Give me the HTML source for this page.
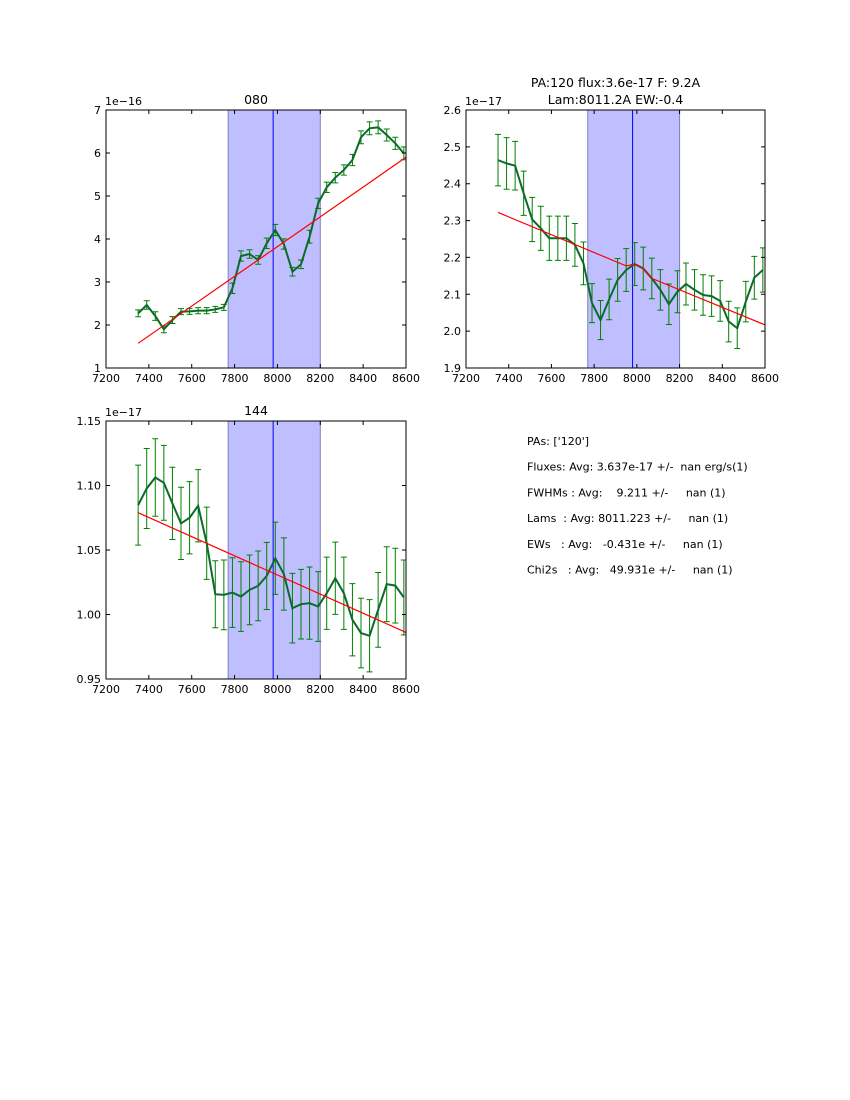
<!DOCTYPE html>
<html><head><meta charset="utf-8"><style>
body{margin:0;background:#fff;width:850px;height:1100px;overflow:hidden;font-family:"DejaVu Sans","Liberation Sans",sans-serif}
svg{position:absolute;left:0;top:0}
text{font-family:"DejaVu Sans","Liberation Sans",sans-serif;font-size:11px;fill:#000}
</style></head><body>
<svg id="fig" width="850" height="1100"></svg>
<script>
const xVals=[7350,7390,7430,7470,7510,7550,7590,7630,7670,7710,7750,7790,7830,7870,7910,7950,7990,8030,8070,8110,8150,8190,8230,8270,8310,8350,8390,8430,8470,8510,8550,8590];
const p1Flux=[2.271,2.465,2.209,1.899,2.116,2.310,2.318,2.333,2.333,2.364,2.411,2.853,3.605,3.651,3.512,3.899,4.209,3.884,3.240,3.411,4.054,4.829,5.202,5.426,5.605,5.837,6.364,6.574,6.597,6.419,6.225,5.992];
const p1Err=[0.08,0.1,0.1,0.08,0.08,0.07,0.07,0.07,0.07,0.07,0.07,0.12,0.12,0.1,0.1,0.12,0.13,0.12,0.1,0.1,0.15,0.12,0.12,0.12,0.12,0.13,0.15,0.15,0.15,0.14,0.14,0.15];
const p1FitX=[7350,8600];
const p1Fit=[1.574,5.9];
const p2Flux=[2.464,2.455,2.449,2.374,2.303,2.279,2.252,2.252,2.252,2.234,2.184,2.076,2.030,2.086,2.139,2.166,2.182,2.170,2.143,2.112,2.073,2.107,2.128,2.112,2.098,2.095,2.082,2.026,2.008,2.080,2.145,2.166];
const p2Err=[0.07,0.07,0.066,0.06,0.06,0.06,0.06,0.06,0.06,0.058,0.058,0.053,0.053,0.055,0.058,0.058,0.058,0.058,0.055,0.055,0.055,0.057,0.057,0.055,0.055,0.055,0.055,0.055,0.055,0.055,0.058,0.06];
const p2FitX=[7350,7950,7990,8030,8070,8600];
const p2Fit=[2.322,2.177,2.182,2.170,2.143,2.017];
const p3Flux=[1.0848,1.0977,1.1062,1.1021,1.0861,1.0706,1.0750,1.0843,1.0552,1.0157,1.0152,1.0170,1.0139,1.0191,1.0222,1.0299,1.0436,1.0314,1.0049,1.0080,1.0088,1.0062,1.0165,1.0281,1.0165,0.9959,0.9856,0.9835,1.0036,1.0235,1.0224,1.0132];
const p3Err=[0.031,0.031,0.030,0.029,0.028,0.028,0.028,0.028,0.028,0.026,0.027,0.027,0.027,0.027,0.027,0.026,0.028,0.028,0.027,0.027,0.028,0.027,0.028,0.028,0.028,0.028,0.027,0.028,0.029,0.029,0.029,0.029];
const p3FitX=[7350,8600];
const p3Fit=[1.0789,0.9861];
const xTicks=[7200,7400,7600,7800,8000,8200,8400,8600];
const p1YTicks=[1,2,3,4,5,6,7];
const p1YLabels=["1","2","3","4","5","6","7"];
const p2YTicks=[1.9,2.0,2.1,2.2,2.3,2.4,2.5,2.6];
const p2YLabels=["1.9","2.0","2.1","2.2","2.3","2.4","2.5","2.6"];
const p3YTicks=[0.95,1.0,1.05,1.1,1.15];
const p3YLabels=["0.95","1.00","1.05","1.10","1.15"];
const spanRange=[7770,8200];
const lineCenter=7980;

const NS="http://www.w3.org/2000/svg";
const fig=document.getElementById('fig');
function mk(tag,attrs,parent){const e=document.createElementNS(NS,tag);for(const k in attrs)e.setAttribute(k,attrs[k]);(parent||fig).appendChild(e);return e;}

function panel(name,L,T,W,H,ymin,ymax,yt,yl,flux,err,fitX,fit,offset,title){
  const g=mk('g',{});
  
  
  const sx=v=>L+(v-7200)/1400*W;
  const sy=v=>T+H-(v-ymin)/(ymax-ymin)*H;
  const cp='clip-'+name;
  const cl=mk('clipPath',{id:cp},g);mk('rect',{x:L,y:T,width:W,height:H},cl);
  const inner=mk('g',{'clip-path':'url(#'+cp+')'},g);
  const sp=mk('rect',{x:sx(spanRange[0]),y:T,width:sx(spanRange[1])-sx(spanRange[0]),height:H,fill:'#bfbfff',stroke:'#7f7fbf','stroke-width':1},inner);
  
  
  const vl=mk('line',{x1:sx(lineCenter),x2:sx(lineCenter),y1:T,y2:T+H,stroke:'#0000ff','stroke-width':1},inner);
  
  
  for(let i=0;i<xVals.length;i++){
    const x=sx(xVals[i]),y1=sy(flux[i]-err[i]),y2=sy(flux[i]+err[i]);
    const eb=mk('path',{d:`M${x},${y1}V${y2}M${x-3},${y1}H${x+3}M${x-3},${y2}H${x+3}`,stroke:'#008000','stroke-width':1,fill:'none'},inner);
    
    
  }
  const fl=mk('polyline',{points:xVals.map((v,i)=>sx(v)+','+sy(flux[i])).join(' '),stroke:'#0a6b2a','stroke-width':2,fill:'none'},inner);
  
  
  const ft=mk('polyline',{points:fitX.map((v,i)=>sx(v)+','+sy(fit[i])).join(' '),stroke:'#ff0000','stroke-width':1.2,fill:'none'},inner);
  
  
  mk('rect',{x:L,y:T,width:W,height:H,fill:'none',stroke:'#000','stroke-width':1},g);
  xTicks.forEach(v=>{const x=sx(v);
    mk('path',{d:`M${x},${T+H}v-4M${x},${T}v4`,stroke:'#000'},g);
    const t=mk('text',{x:x,y:T+H+14,'text-anchor':'middle'},g);t.textContent=v;
    
    });
  yt.forEach((v,i)=>{const y=sy(v);
    mk('path',{d:`M${L},${y}h4M${L+W},${y}h-4`,stroke:'#000'},g);
    const t=mk('text',{x:L-5,y:y+4,'text-anchor':'end'},g);t.textContent=yl[i];
    
    });
  const o=mk('text',{x:L-1,y:T-5},g);o.textContent=offset;
  
  
  title.forEach((s,i)=>{const t=mk('text',{x:L+W/2,y:T-6-(title.length-1-i)*17,'text-anchor':'middle','font-size':'12.5px',style:'font-size:12.5px'},g);t.textContent=s;
    
    });
}
panel('panel-080',106,110,300,258,1,7,p1YTicks,p1YLabels,p1Flux,p1Err,p1FitX,p1Fit,'1e\u221216',['080']);
panel('panel-120',466,110,299,258,1.9,2.6,p2YTicks,p2YLabels,p2Flux,p2Err,p2FitX,p2Fit,'1e\u221217',['PA:120 flux:3.6e-17 F: 9.2A','Lam:8011.2A EW:-0.4']);
panel('panel-144',106,421,300,258,0.95,1.15,p3YTicks,p3YLabels,p3Flux,p3Err,p3FitX,p3Fit,'1e\u221217',['144']);

const summary=["PAs: ['120']","Fluxes: Avg: 3.637e-17 +/-  nan erg/s(1)","FWHMs : Avg:    9.211 +/-     nan (1)","Lams  : Avg: 8011.223 +/-     nan (1)","EWs   : Avg:   -0.431e +/-     nan (1)","Chi2s   : Avg:   49.931e +/-     nan (1)"];
summary.forEach((s,i)=>{const t=mk('text',{x:527,y:445+i*25.7,style:'white-space:pre;font-size:11px'});t.textContent=s;
  
  });
</script>
</body></html>
